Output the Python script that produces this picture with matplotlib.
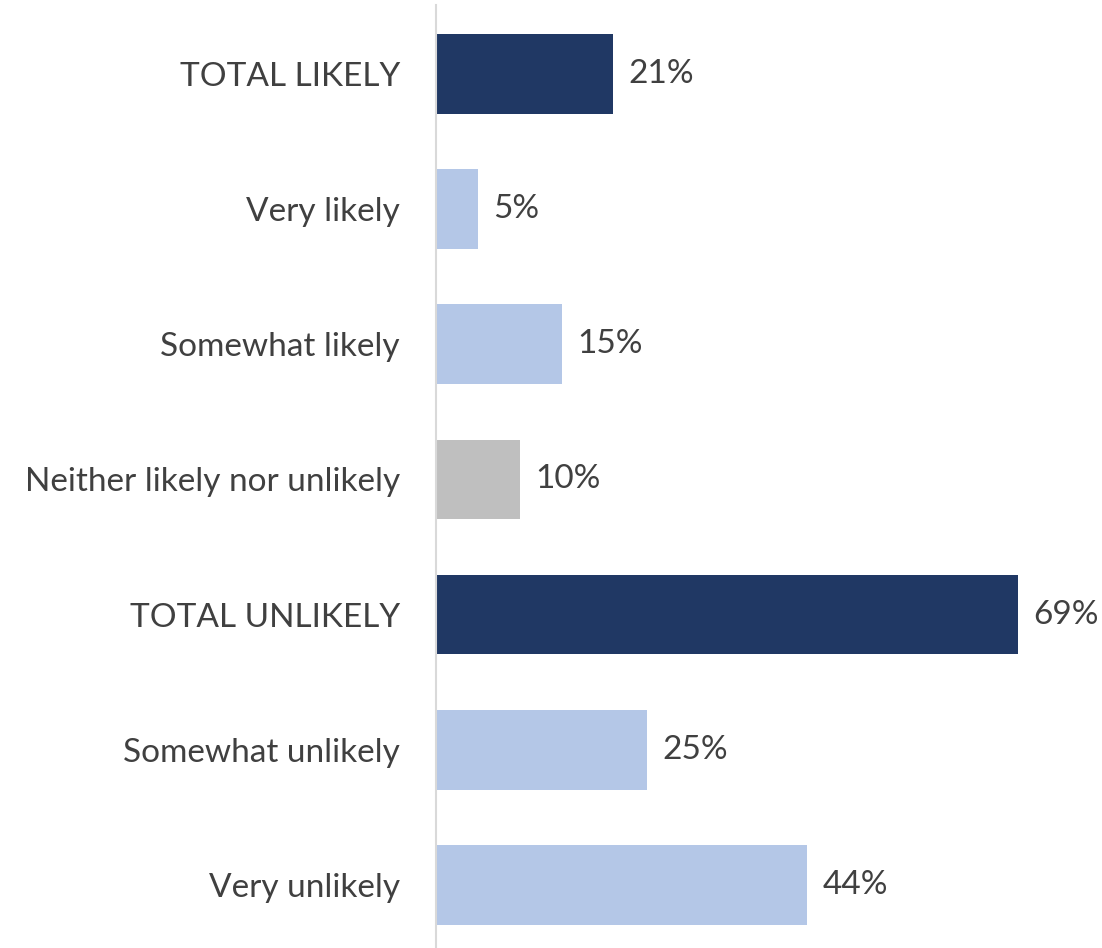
import matplotlib.pyplot as plt

# categories and values, top to bottom
categorias = ["TOTAL LIKELY", "Very likely", "Somewhat likely",
              "Neither likely nor unlikely", "TOTAL UNLIKELY",
              "Somewhat unlikely", "Very unlikely"]
valores = [21, 5, 15, 10, 69, 25, 44]
cores = ["#203864", "#B4C7E7", "#B4C7E7", "#BFBFBF",
         "#203864", "#B4C7E7", "#B4C7E7"]

plt.rcParams['font.family'] = ['Lato', 'DejaVu Sans']

fig = plt.figure(figsize=(11.02, 9.48), dpi=100)
ax = fig.add_axes([436 / 1102, 0, 1 - 436 / 1102, 1 - 5 / 948])

y = list(range(len(categorias)))
ax.barh(y, valores, height=0.59, color=cores)

for yi, v in zip(y, valores):
    ax.annotate(f"{v}%", (v, yi), xytext=(11, 0), textcoords="offset points",
                va="center", ha="left", fontsize=24, color="#404040")

ax.set_yticks(y)
ax.set_yticklabels(categorias, fontsize=24, color="#404040")
ax.tick_params(axis="y", length=0, pad=26)
ax.set_xticks([])
ax.set_xlim(0, 79)
ax.set_ylim(6.467, -0.511)

for s in ["top", "right", "bottom"]:
    ax.spines[s].set_visible(False)
ax.spines["left"].set_color("#D9D9D9")
ax.spines["left"].set_linewidth(1.5)

plt.savefig("out.png", dpi=100)
plt.close()
